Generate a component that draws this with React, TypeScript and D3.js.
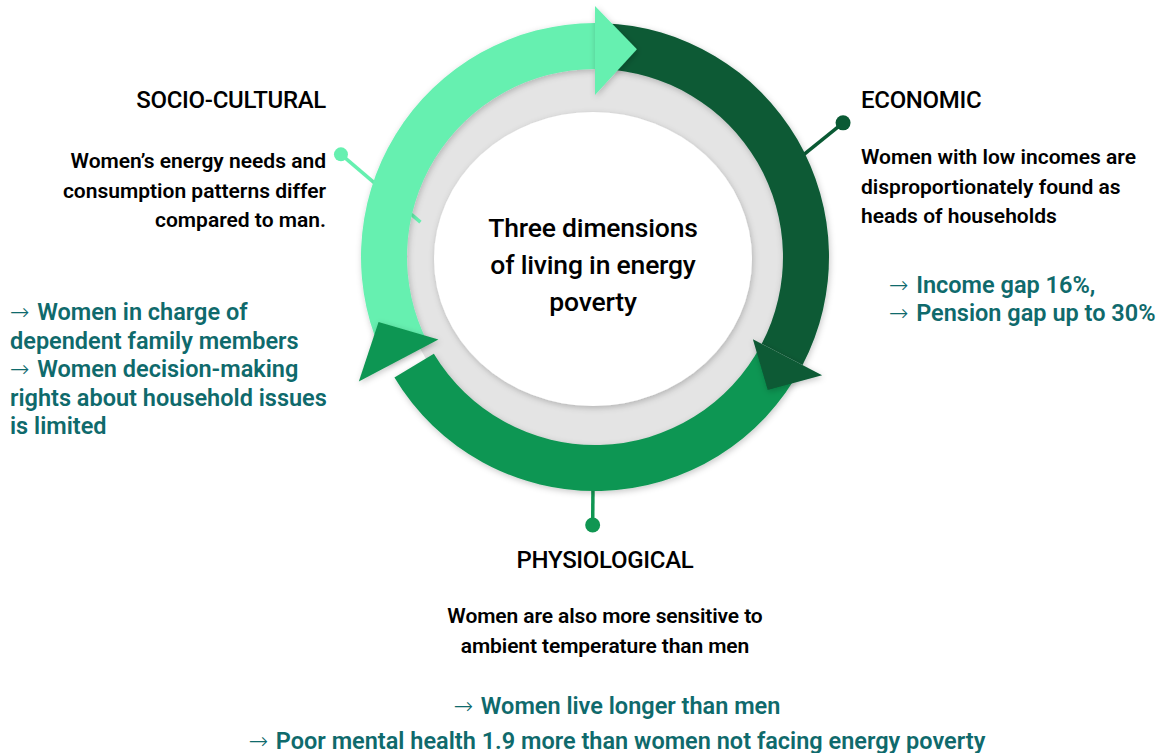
import React, { useEffect, useRef } from "react";
import * as d3 from "d3";

// ring segments (angles in degrees, clockwise from 12 o'clock)
const segmentNames = ["SOCIO-CULTURAL", "ECONOMIC", "PHYSIOLOGICAL"];
const segmentStart = [243, 2, 118];
const segmentEnd = [360, 117.5, 239];
const arrowBase = [0, 117.5, 242.2];
const arrowTip = [11.4, 127.6, 253.3];
const segmentColors = ["#66F0B0", "#0A5A34", "#109652"];

const centerLines = ["Three dimensions", "of living in energy", "poverty"];

const socioBody = ["Women’s energy needs and", "consumption patterns differ", "compared to man."];
const socioFacts = [
  "→ Women in charge of",
  "dependent family members",
  "→ Women decision-making",
  "rights about household issues",
  "is limited",
];
const ecoBody = ["Women with low incomes are", "disproportionately found as", "heads of households"];
const ecoFacts = ["→ Income gap 16%,", "→ Pension gap up to 30%"];
const physBody = ["Women are also more sensitive to", "ambient temperature than men"];
const physFacts = ["→ Women live longer than men", "→ Poor mental health 1.9 more than women not facing energy poverty"];

const TEAL = "#0F6A6C";
const FONT = "Roboto, 'Noto Sans', sans-serif";

const App = () => {
  const ref = useRef<SVGSVGElement>(null);

  useEffect(() => {
    const svg: any = d3.select(ref.current);
    svg.selectAll("*").remove();
    const width = 1165;
    const height = 753;
    svg.attr("width", width).attr("height", height);

    const defs = svg.append("defs");
    const f = defs.append("filter").attr("id", "shadow").attr("x", "-20%").attr("y", "-20%").attr("width", "140%").attr("height", "140%");
    f.append("feDropShadow").attr("dx", 1).attr("dy", 2).attr("stdDeviation", 3).attr("flood-color", "#000").attr("flood-opacity", 0.22);

    const cx = 595;
    const cy = 257;
    const rIn = 188;
    const rOut = 234;
    const rad = d3.scaleLinear().domain([0, 360]).range([0, 2 * Math.PI]);
    const pt = (deg: number, r: number) => {
      const a = rad(deg);
      return [cx + r * Math.sin(a), cy - r * Math.cos(a)];
    };

    const g = svg.append("g");

    // gray ring and inner white disc
    g.append("circle").attr("cx", cx - 1).attr("cy", cy + 1).attr("r", 196).attr("fill", "#E4E4E4");
    g.append("ellipse")
      .attr("cx", 593)
      .attr("cy", 259)
      .attr("rx", 159)
      .attr("ry", 147)
      .attr("fill", "#fff")
      .attr("filter", "url(#shadow)");

    // connectors (drawn under the ring): [angle, radius] of dot end and inner end
    const connectors = [
      [[-68, 274], [-78.7, 178]],
      [[61.6, 282], [66, 200]],
      [[180.5, 268], [180.5, 188]],
    ];
    const conn = g.append("g");
    connectors.forEach(([a, b], i) => {
      const [x1, y1] = pt(a[0], a[1]);
      const [x2, y2] = pt(b[0], b[1]);
      conn.append("line").attr("x1", x1).attr("y1", y1).attr("x2", x2).attr("y2", y2)
        .attr("stroke", segmentColors[i]).attr("stroke-width", 3.5);
      conn.append("circle").attr("cx", x1).attr("cy", y1).attr("r", i === 0 ? 7 : 7.5).attr("fill", segmentColors[i]);
    });

    // arc bodies
    const arc = d3.arc<any>().innerRadius(rIn).outerRadius(rOut);
    const arcs = g.append("g").attr("transform", `translate(${cx},${cy})`).attr("filter", "url(#shadow)");
    [2, 1, 0].forEach((i) => {
      arcs.append("path")
        .attr("d", arc({ startAngle: rad(segmentStart[i]), endAngle: rad(segmentEnd[i]) }))
        .attr("fill", segmentColors[i]);
    });

    // arrow heads
    const heads = g.append("g").attr("filter", "url(#shadow)");
    const headInner = [162, 178, 177];
    const headOuter = [251, 256, 267];
    const tipR = [212, 218, 226];
    [2, 1, 0].forEach((i) => {
      const p1 = pt(arrowBase[i], headInner[i]);
      const p2 = pt(arrowBase[i], headOuter[i]);
      const p3 = pt(arrowTip[i], tipR[i]);
      heads.append("polygon").attr("points", [p1, p2, p3].map((p) => p.join(",")).join(" ")).attr("fill", segmentColors[i]);
    });

    // text helper
    const block = (lines: string[], x: number, y0: number, dy: number, anchor: string, size: number, color: string, weight: number, ls: number) => {
      const t = svg.append("g");
      lines.forEach((s, i) => {
        const txt = t.append("text")
          .attr("x", x)
          .attr("y", y0 + i * dy)
          .attr("text-anchor", anchor)
          .attr("font-family", FONT)
          .attr("font-size", size)
          .attr("font-weight", weight)
          .attr("letter-spacing", ls)
          .attr("fill", color);
        if (s.startsWith("→ ")) {
          txt.append("tspan").attr("font-family", "'DejaVu Sans'").attr("font-weight", 200).attr("font-size", size).text("→ ");
          txt.append("tspan").text(s.slice(2));
        } else {
          txt.text(s);
        }
      });
    };

    block(centerLines, 593, 237, 37, "middle", 26.5, "#000", 500, -0.2);

    block([segmentNames[0]], 326, 108, 0, "end", 24, "#000", 500, -0.3);
    block(socioBody, 326, 168, 29.5, "end", 21, "#000", 600, 0);
    block(socioFacts, 10, 320, 28.5, "start", 23.5, TEAL, 600, 0);

    block([segmentNames[1]], 861, 108, 0, "start", 24, "#000", 500, -0.3);
    block(ecoBody, 861, 164, 29.5, "start", 21, "#000", 600, 0);
    block(ecoFacts, 889, 293, 28, "start", 23.5, TEAL, 600, 0);

    block([segmentNames[2]], 605, 568, 0, "middle", 24, "#000", 500, -0.3);
    block(physBody, 605, 623, 30, "middle", 21, "#000", 600, -0.1);
    block(physFacts, 617, 714, 34.5, "middle", 23.5, TEAL, 600, 0);
  }, []);

  return <svg ref={ref} style={{ position: "absolute", left: 0, top: 0 }} />;
};

export default App;
